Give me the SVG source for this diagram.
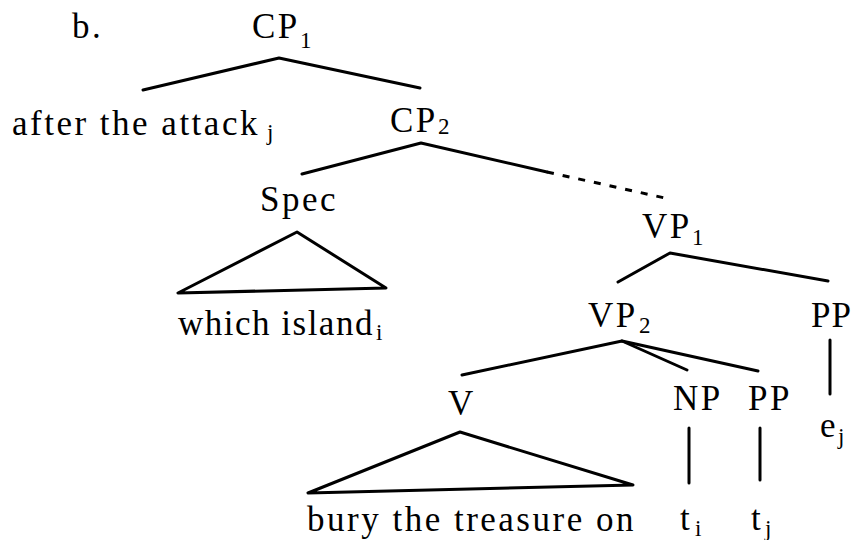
<svg xmlns="http://www.w3.org/2000/svg" width="853" height="540" viewBox="0 0 853 540">
<style>
.t{font-family:"Liberation Serif","Times New Roman",serif;font-size:35px;letter-spacing:2.5px;fill:#000}
.s{font-family:"Liberation Serif","Times New Roman",serif;font-size:23px;fill:#000}
.e{stroke:#000;stroke-width:3;fill:none;stroke-linecap:round;stroke-linejoin:round}
.d{stroke:#000;stroke-width:3;fill:none;stroke-dasharray:7 9}
</style>
<rect width="853" height="540" fill="#fff"/>
<g id="label-b"><text class="t" x="72" y="38">b.</text></g>
<g id="CP1"><text class="t" x="252" y="38">CP</text><text class="s" x="300" y="48">1</text></g>
<g id="after"><text class="t" x="12" y="135">after the attack</text><text class="s" x="267" y="140">j</text></g>
<g id="CP2"><text class="t" x="390" y="132">CP</text><text class="s" x="438" y="134">2</text></g>
<g id="Spec"><text class="t" x="260" y="211">Spec</text></g>
<g id="which"><text class="t" x="178" y="335" style="letter-spacing:1.5px">which island</text><text class="s" x="376" y="340">i</text></g>
<g id="VP1"><text class="t" x="642" y="238">VP</text><text class="s" x="692" y="245">1</text></g>
<g id="VP2"><text class="t" x="588" y="327">VP</text><text class="s" x="639" y="333">2</text></g>
<g id="PP1"><text class="t" x="811" y="327" style="letter-spacing:1px">PP</text></g>
<g id="V"><text class="t" x="448" y="415">V</text></g>
<g id="NP"><text class="t" x="673" y="410">NP</text></g>
<g id="PP2"><text class="t" x="748" y="410">PP</text></g>
<g id="ej"><text class="t" x="820" y="437">e</text><text class="s" x="838" y="444">j</text></g>
<g id="bury"><text class="t" x="307" y="531">bury the treasure on</text></g>
<g id="ti"><text class="t" x="680" y="530">t</text><text class="s" x="695" y="536">i</text></g>
<g id="tj"><text class="t" x="751" y="530">t</text><text class="s" x="765" y="536">j</text></g>
<g id="connectors">
<polyline class="e" points="143,90 279,58 420,88"/>
<polyline class="e" points="302,174 421,143 547,172"/>
<line class="d" x1="547" y1="172" x2="665" y2="198"/>
<polygon class="e" points="297,232 178,293 386,288"/>
<polyline class="e" points="618,282 670,253 828,281"/>
<line class="e" x1="830" y1="340" x2="830" y2="394"/>
<polyline class="e" points="462,375 622,341 687,370"/>
<line class="e" x1="622" y1="341" x2="758" y2="371"/>
<polygon class="e" points="460,432 308,493 633,485"/>
<line class="e" x1="689" y1="428" x2="689" y2="483"/>
<line class="e" x1="760" y1="428" x2="760" y2="480"/>
</g>
</svg>
